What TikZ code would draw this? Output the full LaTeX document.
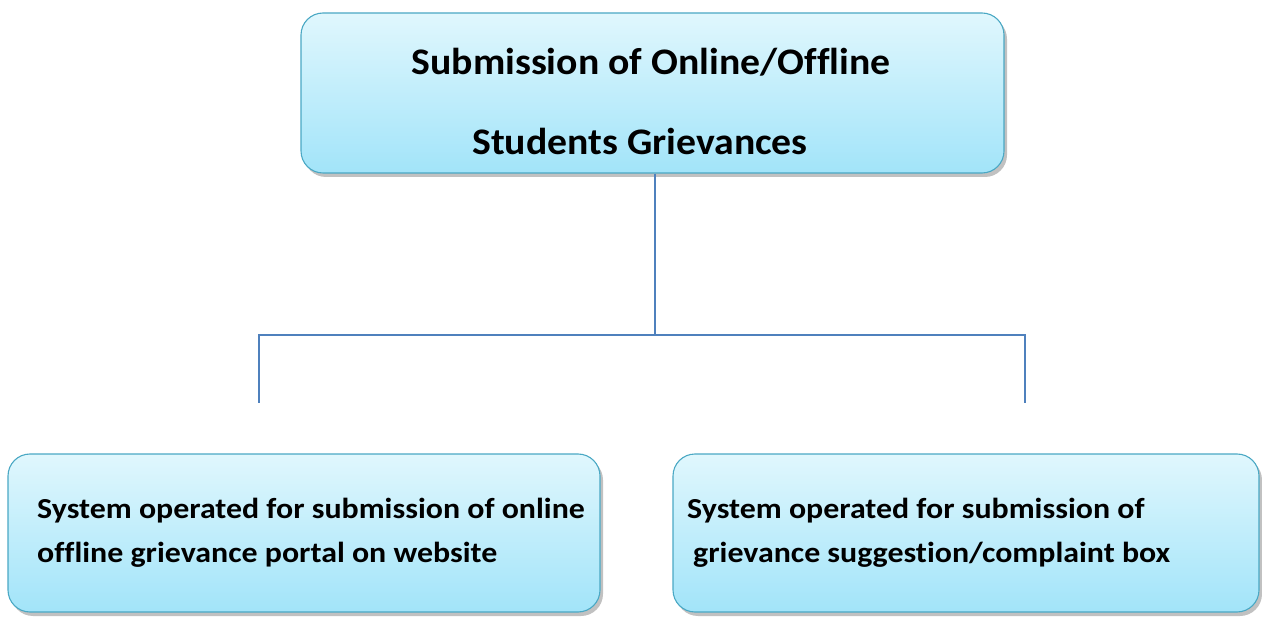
\documentclass[tikz,border=0pt]{standalone}
\usepackage{fontspec}
\setmainfont{Carlito}[Ligatures=NoCommon]
\usetikzlibrary{shadows}
\definecolor{boxtop}{HTML}{E0F7FD}
\definecolor{boxbot}{HTML}{A2E4F9}
\definecolor{boxline}{HTML}{4AA8C4}
\definecolor{conn}{HTML}{4F81BD}
\tikzset{
  gbox/.style={draw=boxline, line width=1.1pt, rounded corners=22pt,
    top color=boxtop, bottom color=boxbot,
    drop shadow={shadow xshift=3pt, shadow yshift=-4pt, opacity=0.35, fill=black!70},
    inner sep=0pt},
  bigtxt/.style={font=\fontsize{37.5}{42}\selectfont\bfseries, anchor=base, inner sep=0pt, xscale=1.06, transform shape},
  smalltxt/.style={font=\fontsize{29}{36}\selectfont\bfseries, anchor=base west, inner sep=0pt, xscale=1.1, transform shape},
  connline/.style={draw=conn, line width=1.4pt}
}
\begin{document}
\begin{tikzpicture}[x=1pt,y=-1pt]
\useasboundingbox (0,0) rectangle (1262,620);
\node[gbox, minimum width=703pt, minimum height=160pt] (top) at (652.5,93) {};
\node[gbox, minimum width=592pt, minimum height=158pt] (left) at (304,533) {};
\node[gbox, minimum width=586pt, minimum height=158pt] (right) at (966,533) {};
\node[bigtxt] (t1) at (651,75) {Submission of Online/Offline};
\node[bigtxt] (t2) at (640,155) {Students Grievances};
\node[smalltxt] (l1) at (37,518) {System operated for submission of online};
\node[smalltxt] (l2) at (37,562) {offline grievance portal on website};
\node[smalltxt] (r1) at (687,518) {System operated for submission of};
\node[smalltxt] (r2) at (693,562) {grievance suggestion/complaint box};
\coordinate (hub) at (655,335);
\coordinate (hl) at (259,335);
\coordinate (hr) at (1025,335);
\coordinate (dl) at (259,403);
\coordinate (dr) at (1025,403);
\draw[connline] (top.south -| hub) -- (hub);
\draw[connline] (dl) -- (hl) -- (hr) -- (dr);
\end{tikzpicture}
\end{document}
